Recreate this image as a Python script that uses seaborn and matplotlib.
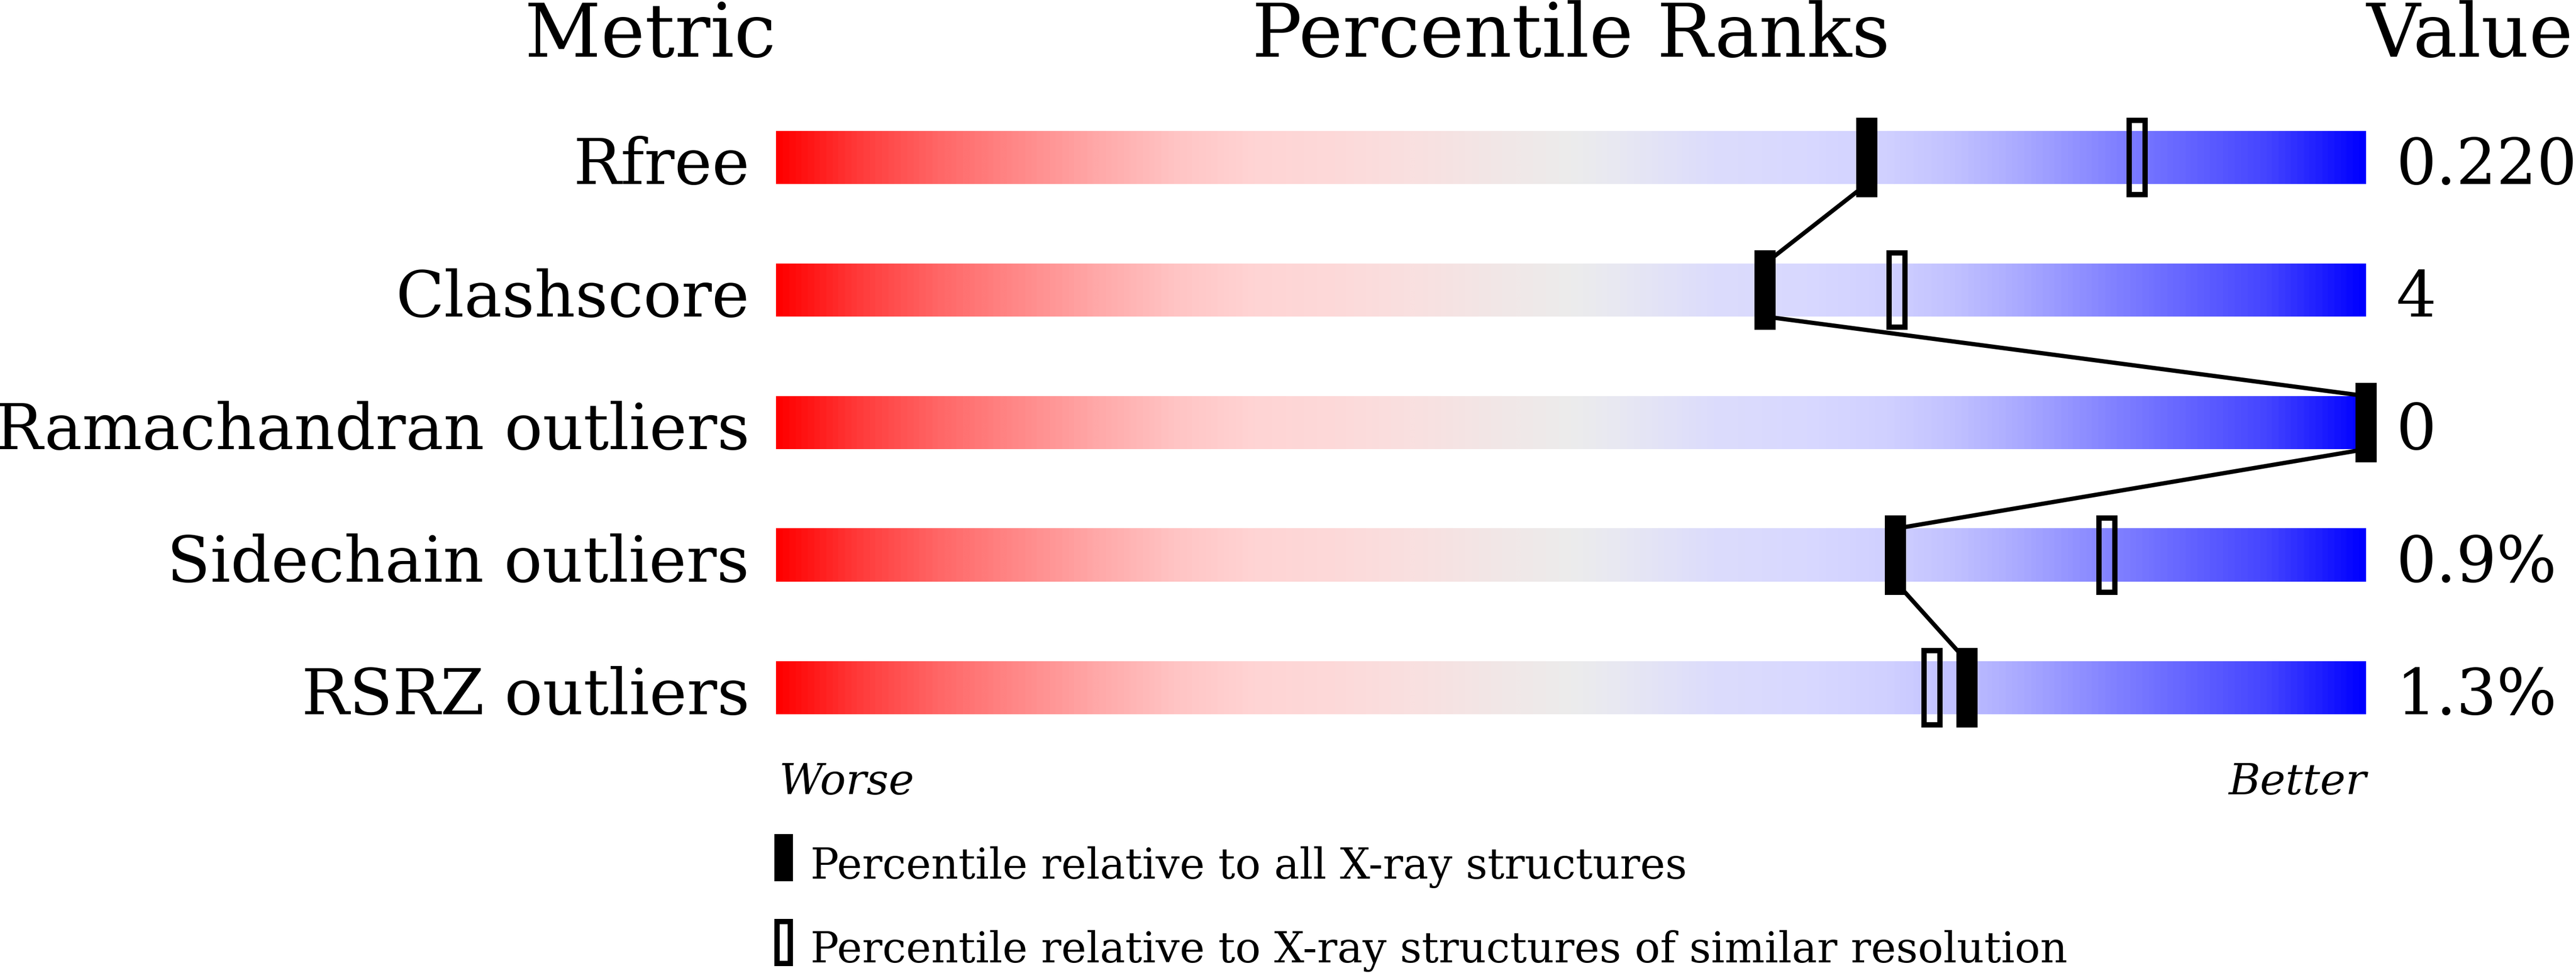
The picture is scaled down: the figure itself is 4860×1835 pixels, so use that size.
import numpy as np
import pandas as pd
import seaborn as sns
import matplotlib.pyplot as plt
from matplotlib.colors import LinearSegmentedColormap
from matplotlib.patches import Rectangle

# data
metrics = ["Rfree", "Clashscore", "Ramachandran outliers", "Sidechain outliers", "RSRZ outliers"]
values = ["0.220", "4", "0", "0.9%", "1.3%"]
pct_all = [68.6, 62.2, 100.0, 70.4, 74.9]
pct_similar = [85.6, 70.5, 100.0, 83.7, 72.7]
legend_labels = ["Percentile relative to all X-ray structures",
                 "Percentile relative to X-ray structures of similar resolution"]

# colour stops of the slider (position in percent, colour)
grad_pos = [0, 5, 10, 15, 20, 25, 30, 35, 40, 45, 50, 53, 59, 65, 70, 74, 78, 81, 84.5, 88, 94, 100]
grad_col = ["#ff0000", "#ff3a3a", "#ff6666", "#ff8888", "#ffa8a8", "#ffc4c4", "#ffd4d4",
            "#fdd9d9", "#f9e0e0", "#f2e6e6", "#ececec", "#e8e8f2", "#dcdcfc", "#d8d8ff",
            "#d0d0ff", "#c2c2ff", "#acacff", "#9898ff", "#8080ff", "#6a6aff", "#4444ff", "#0000ff"]

sns.set_theme(style="white")
plt.rcParams['font.family'] = ['DejaVu Serif']
plt.rcParams['text.color'] = 'black'

cmap = LinearSegmentedColormap.from_list(
    "slider", list(zip([p / 100 for p in grad_pos], grad_col)))

W, H = 4860, 1835
fig = plt.figure(figsize=(W / 100, H / 100), dpi=100)
ax = fig.add_axes([1464 / W, 0, 3000 / W, 1])

rows = np.arange(len(metrics))
bar_h = 0.4
grad = np.linspace(0, 1, 1200)[None, :]

for r in rows:
    ax.imshow(grad, cmap=cmap, aspect='auto', interpolation='bilinear',
              extent=(0, 100, r + bar_h / 2, r - bar_h / 2), zorder=1)

# connecting line through the "all structures" markers
line_df = pd.DataFrame({
    "x": np.repeat(pct_all, 2),
    "y": np.ravel([[r - bar_h / 2, r + bar_h / 2] for r in rows]),
})
sns.lineplot(data=line_df, x="x", y="y", sort=False, estimator=None,
             color="black", linewidth=5.8, ax=ax, zorder=2, legend=False)

mw = 40 / 30      # marker width in percent units (30 px per percent)
mh = 150 / 250    # marker height in row units (250 px per row)
edge = 10 / 30
for r, ps, pa in zip(rows, pct_similar, pct_all):
    ax.add_patch(Rectangle((ps - (mw - edge) / 2, r - (mh - 10 / 250) / 2), mw - edge, mh - 10 / 250,
                           fill=False, ec="black", lw=7.2, joinstyle="miter", zorder=3, clip_on=False))
    ax.add_patch(Rectangle((pa - mw / 2, r - mh / 2), mw, mh,
                           fc="black", ec="none", zorder=4, clip_on=False))

# headers
hy = -0.76
ax.text(0, hy, "Metric", ha="right", va="baseline", fontsize=101, color="black")
ax.text(50, hy, "Percentile Ranks", ha="center", va="baseline", fontsize=101, color="black")
ax.text(100, hy, "Value", ha="left", va="baseline", fontsize=101, color="black")

for r, m, v in zip(rows, metrics, values):
    ax.text(-1.667, r + bar_h / 2, m, ha="right", va="baseline", fontsize=86, color="black")
    ax.text(101.87, r + bar_h / 2, v, ha="left", va="baseline", fontsize=86, color="black")

ax.text(0.2, 4.804, "Worse", ha="left", va="baseline", fontsize=58.5, style="italic", color="black")
ax.text(100, 4.804, "Better", ha="right", va="baseline", fontsize=58.5, style="italic", color="black")

# legend
lw_ = 35 / 30
lh_ = 89 / 250
ax.add_patch(Rectangle((0.47 - lw_ / 2, 5.104), lw_, lh_, fc="black", ec="none", clip_on=False))
ax.add_patch(Rectangle((0.47 - (lw_ - edge) / 2, 5.744 + 5 / 250), lw_ - edge, lh_ - 10 / 250,
                       fill=False, ec="black", lw=7.2, joinstyle="miter", clip_on=False))
ax.text(2.17, 5.44, legend_labels[0], ha="left", va="baseline", fontsize=57.5, color="black")
ax.text(2.17, 6.072, legend_labels[1], ha="left", va="baseline", fontsize=57.5, color="black")

ax.set_xlim(0, 100)
ax.set_ylim((H - 297) / 250, (0 - 297) / 250)
ax.axis("off")

fig.savefig("out.png", dpi=100)
